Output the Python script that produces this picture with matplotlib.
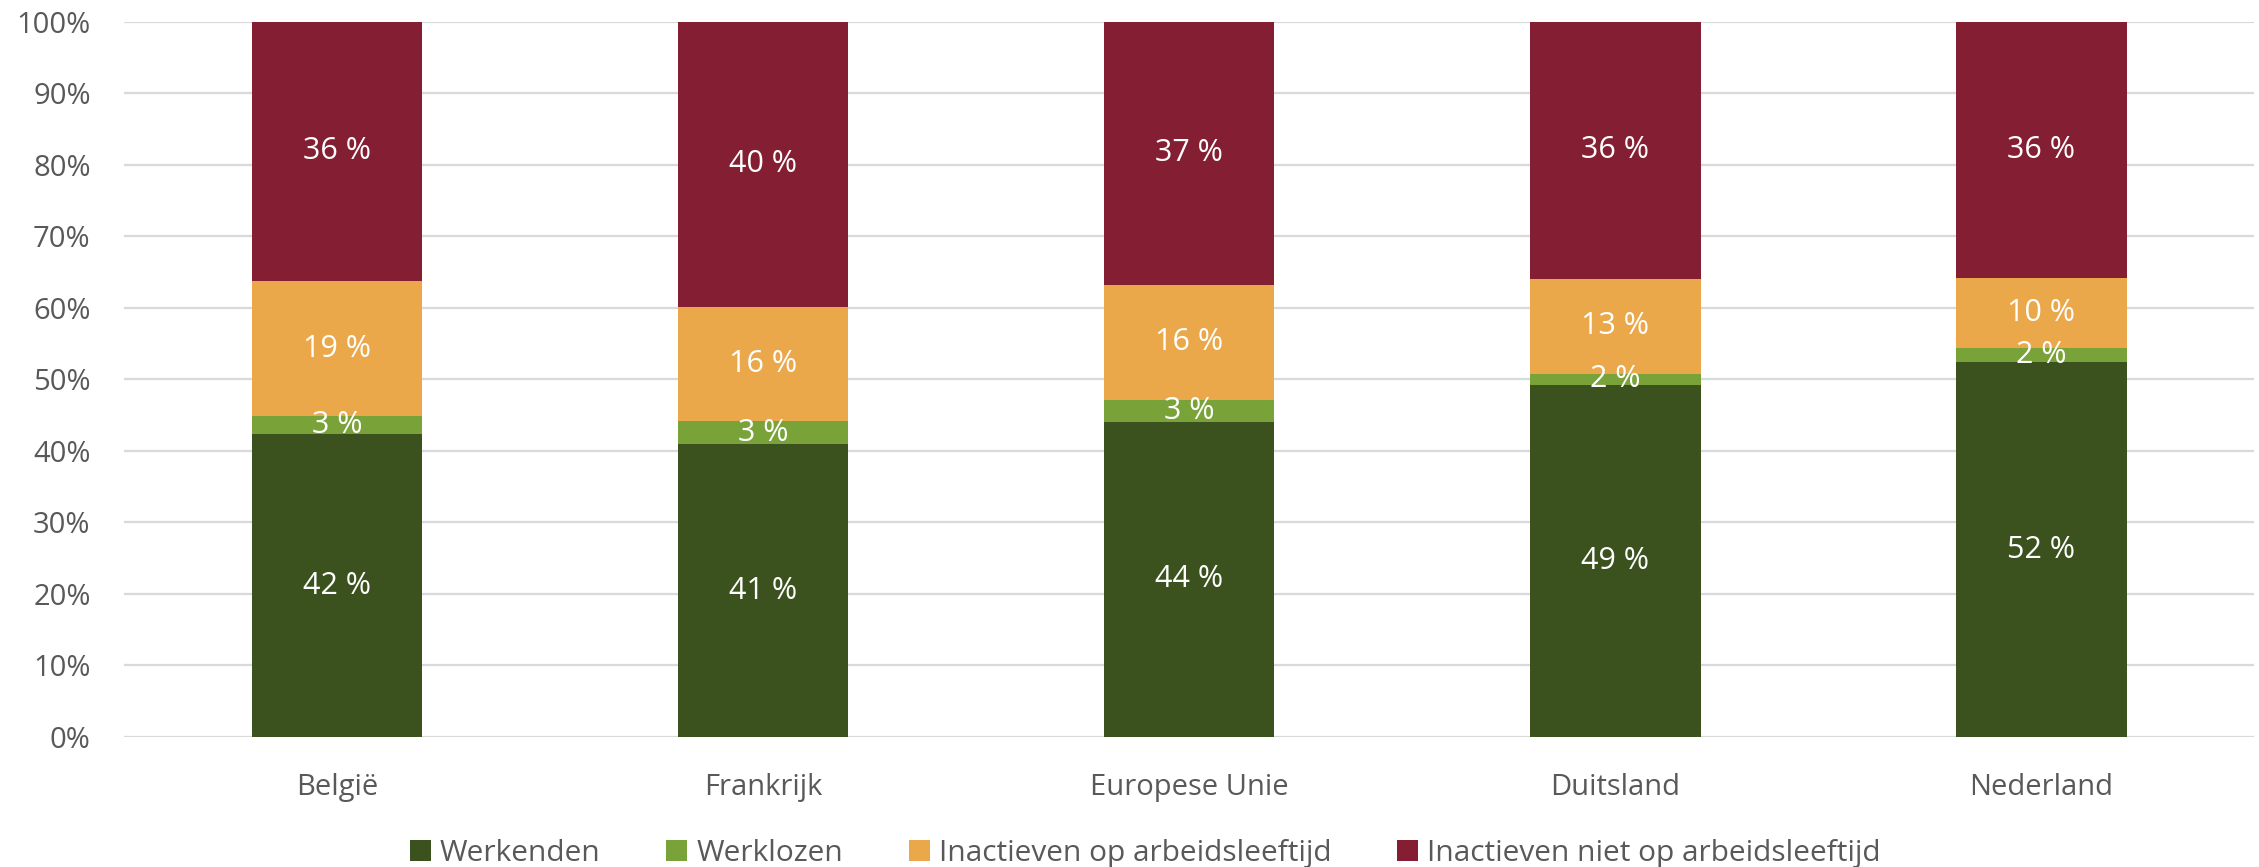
import matplotlib
matplotlib.use("Agg")
from matplotlib import pyplot as plt
import numpy as np

plt.rcParams['font.family'] = ['Open Sans', 'DejaVu Sans']

# categories and shares (%)
landen = ['België', 'Frankrijk', 'Europese Unie', 'Duitsland', 'Nederland']
werkenden = [42.3, 40.9, 44.1, 49.2, 52.4]
werklozen = [2.6, 3.3, 3.0, 1.6, 2.0]
inactief_op = [18.8, 15.9, 16.1, 13.2, 9.8]
inactief_niet = [36.3, 39.9, 36.8, 36.0, 35.8]

series = ['Werkenden', 'Werklozen', 'Inactieven op arbeidsleeftijd',
          'Inactieven niet op arbeidsleeftijd']
kleuren = ['#3B511E', '#79A238', '#EAA84B', '#841E32']

fig = plt.figure(figsize=(22.59, 8.67), dpi=100)
ax = fig.add_axes([0.0549, 0.150, 0.9431, 0.825])

x = np.arange(len(landen))
bottom = np.zeros(len(landen))
for naam, waarden, kleur in zip(series, [werkenden, werklozen, inactief_op, inactief_niet], kleuren):
    waarden = np.array(waarden)
    bars = ax.bar(x, waarden, 0.4, bottom=bottom, color=kleur, label=naam, zorder=2)
    ax.bar_label(bars, labels=[f'{round(v):.0f} %' for v in waarden],
                 label_type='center', color='white', fontsize=22)
    bottom += waarden

ax.set_xlim(-0.5, len(landen) - 0.5)
ax.set_ylim(0, 100)
ax.set_yticks(np.arange(0, 101, 10))
ax.set_yticklabels([f'{v}%' for v in range(0, 101, 10)])
ax.set_xticks(x)
ax.set_xticklabels(landen)
ax.tick_params(axis='both', length=0, labelsize=21, labelcolor='#595959')
ax.tick_params(axis='y', pad=24)
ax.tick_params(axis='x', pad=26)
ax.grid(axis='y', color='#D9D9D9', linewidth=1.6, zorder=0)
for s in ax.spines.values():
    s.set_visible(False)

handles, labels = ax.get_legend_handles_labels()
fig.legend(handles, labels, loc='lower center', bbox_to_anchor=(0.507, -0.032), ncol=4,
           frameon=False, fontsize=21.5, labelcolor='#595959', handlelength=0.7,
           handleheight=0.7, handletextpad=0.3, columnspacing=2.2)

fig.savefig('out.png', dpi=100)
